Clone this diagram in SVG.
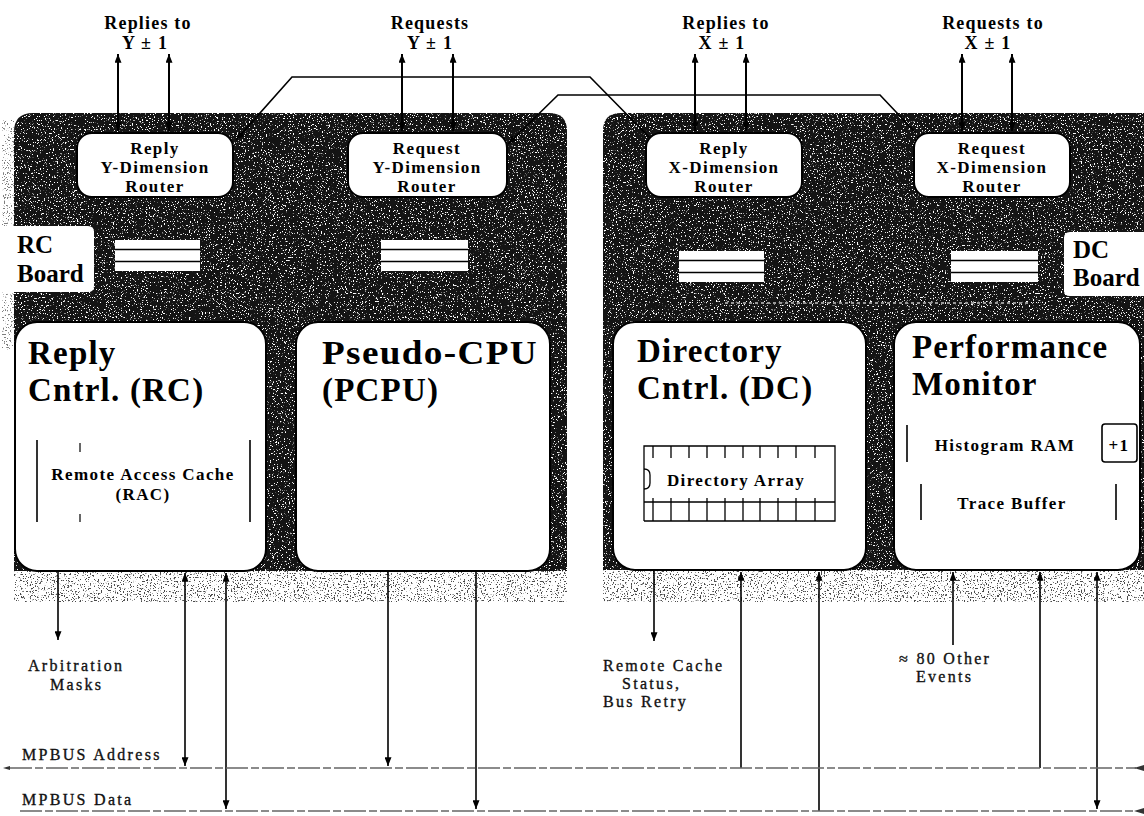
<svg xmlns="http://www.w3.org/2000/svg" width="1144" height="816" viewBox="0 0 1144 816">
<defs>
<style>
.lbl{font-family:"Liberation Serif","Times New Roman",serif;font-weight:bold;fill:#000}
.top{font-size:18px;text-anchor:middle;letter-spacing:1.2px}
.rt{font-size:17px;text-anchor:middle;letter-spacing:1.4px}
.big{font-size:33px;letter-spacing:1.2px}
.brd{font-size:25px}
.inner{font-size:17px;letter-spacing:1.4px}
.bot{font-family:"Liberation Serif","Times New Roman",serif;font-size:16px;letter-spacing:2.3px;fill:#111;stroke:#111;stroke-width:0.35}
.box{fill:#fff;stroke:#000;stroke-width:2}
.wire{fill:none;stroke:#000;stroke-width:1.6}
.thick{fill:none;stroke:#000;stroke-width:2}
.bus{fill:none;stroke:#666;stroke-width:1.3;stroke-dasharray:22 3 8 3}
.bar{stroke:#000;stroke-width:1.6}
.dark{fill:#141414}
</style>
<marker id="ah" viewBox="0 0 10 8" refX="10" refY="4" markerWidth="10" markerHeight="7" markerUnits="userSpaceOnUse" orient="auto-start-reverse">
<path d="M0,0 L10,4 L0,8 z" fill="#000"/>
</marker>
<filter id="fW" x="0" y="0" width="1" height="1" color-interpolation-filters="sRGB">
<feTurbulence type="fractalNoise" baseFrequency="0.75" numOctaves="2" seed="7" result="n"/>
<feColorMatrix in="n" type="matrix" values="0 0 0 0 1  0 0 0 0 1  0 0 0 0 1  14 0 0 0 -8.7" result="m"/>
<feComposite in="m" in2="SourceAlpha" operator="in"/>
</filter>
<filter id="fK" x="0" y="0" width="1" height="1" color-interpolation-filters="sRGB">
<feTurbulence type="fractalNoise" baseFrequency="0.7" numOctaves="2" seed="3" result="n"/>
<feColorMatrix in="n" type="matrix" values="0 0 0 0 0  0 0 0 0 0  0 0 0 0 0  14 0 0 0 -8.3" result="m"/>
<feComposite in="m" in2="SourceAlpha" operator="in"/>
</filter>
</defs>
<rect width="1144" height="816" fill="#fff"/>

<g id="boards">
<path id="rc-board" class="dark" d="M14,132 Q14,113 33,113 H549 Q567,113 567,131 V600 H14 Z"/>
<path d="M14,132 Q14,113 33,113 H549 Q567,113 567,131 V600 H14 Z" fill="#fff" filter="url(#fW)"/>
<path id="dc-board" class="dark" d="M603,131 Q603,113 621,113 H1144 V600 H603 Z"/>
<path d="M603,131 Q603,113 621,113 H1144 V600 H603 Z" fill="#fff" filter="url(#fW)"/>
<rect x="14" y="571" width="553" height="31" fill="#fff"/>
<rect x="14" y="571" width="553" height="31" fill="#fff" filter="url(#fK)" opacity="0.7"/>
<rect x="603" y="570" width="541" height="32" fill="#fff"/>
<rect x="603" y="570" width="541" height="32" fill="#fff" filter="url(#fK)" opacity="0.7"/>
<rect x="2" y="120" width="12" height="230" fill="#fff" filter="url(#fK)" opacity="0.5"/>
<line x1="725" y1="303" x2="1030" y2="303" stroke="#9a9a9a" stroke-width="2" stroke-dasharray="3 3"/>
</g>

<g id="rc-board-label">
<path d="M0,226 H88 Q94,226 94,232 V286 Q94,292 88,292 H0 Z" fill="#fff"/>
<text class="lbl brd" x="17" y="253">RC</text>
<text class="lbl brd" x="17" y="282">Board</text>
</g>
<g id="dc-board-label">
<path d="M1144,232 H1070 Q1064,232 1064,238 V290 Q1064,296 1070,296 H1144 Z" fill="#fff"/>
<text class="lbl brd" x="1073" y="258">DC</text>
<text class="lbl brd" x="1073" y="286">Board</text>
</g>

<g id="connectors">
<path class="thick" d="M118,54 V131" marker-start="url(#ah)" marker-end="url(#ah)"/>
<path class="thick" d="M169,54 V131" marker-start="url(#ah)" marker-end="url(#ah)"/>
<path class="thick" d="M402,54 V131" marker-start="url(#ah)" marker-end="url(#ah)"/>
<path class="thick" d="M453,54 V131" marker-start="url(#ah)" marker-end="url(#ah)"/>
<path class="thick" d="M695,54 V131" marker-start="url(#ah)" marker-end="url(#ah)"/>
<path class="thick" d="M746,54 V131" marker-start="url(#ah)" marker-end="url(#ah)"/>
<path class="thick" d="M962,54 V131" marker-start="url(#ah)" marker-end="url(#ah)"/>
<path class="thick" d="M1012,54 V131" marker-start="url(#ah)" marker-end="url(#ah)"/>
<path class="wire" d="M236,140 L292,77 L590,77 L649,137" marker-start="url(#ah)"/>
<path class="wire" d="M508,144 L558,95 L880,95 L915,132" marker-start="url(#ah)"/>
<path class="wire" d="M58,572 V640" marker-end="url(#ah)"/>
<path class="wire" d="M185,573 V766" marker-start="url(#ah)" marker-end="url(#ah)"/>
<path class="wire" d="M226,573 V809" marker-start="url(#ah)" marker-end="url(#ah)"/>
<path class="wire" d="M388,572 V766" marker-end="url(#ah)"/>
<path class="wire" d="M476,572 V809" marker-end="url(#ah)"/>
<path class="wire" d="M654,571 V641" marker-end="url(#ah)"/>
<path class="wire" d="M741,768 V572" marker-end="url(#ah)"/>
<path class="wire" d="M819,811 V572" marker-end="url(#ah)"/>
<path class="wire" d="M953,645 V572" marker-end="url(#ah)"/>
<path class="wire" d="M1040,768 V572" marker-end="url(#ah)"/>
<path class="wire" d="M1097,572 V809" marker-start="url(#ah)" marker-end="url(#ah)"/>
<path class="bus" d="M10,768 H1136"/>
<path class="bus" d="M20,811 H1136"/>
<path d="M3,768 L10,766 L10,770 Z" fill="#333"/>
<path d="M1134,768 L1144,765 L1144,771 Z" fill="#333"/>
<path d="M1134,811 L1144,808 L1144,814 Z" fill="#333"/>
</g>

<g id="label-reply-y">
<text class="lbl top" x="148" y="29">Replies to</text>
<text class="lbl top" x="145" y="49">Y ± 1</text>
</g>
<g id="label-request-y">
<text class="lbl top" x="430" y="29">Requests</text>
<text class="lbl top" x="430" y="49">Y ± 1</text>
</g>
<g id="label-reply-x">
<text class="lbl top" x="726" y="29">Replies to</text>
<text class="lbl top" x="722" y="49">X ± 1</text>
</g>
<g id="label-request-x">
<text class="lbl top" x="993" y="29">Requests to</text>
<text class="lbl top" x="988" y="49">X ± 1</text>
</g>

<g id="reply-y-router">
<rect class="box" x="77" y="133" width="156" height="64" rx="15"/>
<text class="lbl rt" x="155" y="154">Reply</text>
<text class="lbl rt" x="155" y="173">Y-Dimension</text>
<text class="lbl rt" x="155" y="192">Router</text>
</g>
<g id="request-y-router">
<rect class="box" x="348" y="133" width="159" height="64" rx="15"/>
<text class="lbl rt" x="427" y="154">Request</text>
<text class="lbl rt" x="427" y="173">Y-Dimension</text>
<text class="lbl rt" x="427" y="192">Router</text>
</g>
<g id="reply-x-router">
<rect class="box" x="646" y="133" width="156" height="64" rx="15"/>
<text class="lbl rt" x="724" y="154">Reply</text>
<text class="lbl rt" x="724" y="173">X-Dimension</text>
<text class="lbl rt" x="724" y="192">Router</text>
</g>
<g id="request-x-router">
<rect class="box" x="914" y="133" width="156" height="64" rx="15"/>
<text class="lbl rt" x="992" y="154">Request</text>
<text class="lbl rt" x="992" y="173">X-Dimension</text>
<text class="lbl rt" x="992" y="192">Router</text>
</g>

<g id="fifo-reply-y">
<rect x="115" y="240" width="85" height="31" fill="#fff"/>
<line class="bar" x1="115" y1="249.5" x2="200" y2="249.5"/>
<line class="bar" x1="115" y1="261.5" x2="200" y2="261.5"/>
</g>
<g id="fifo-request-y">
<rect x="381" y="240" width="87" height="31" fill="#fff"/>
<line class="bar" x1="381" y1="249.5" x2="468" y2="249.5"/>
<line class="bar" x1="381" y1="261.5" x2="468" y2="261.5"/>
</g>
<g id="fifo-reply-x">
<rect x="679" y="251" width="85" height="31" fill="#fff"/>
<line class="bar" x1="679" y1="260.5" x2="764" y2="260.5"/>
<line class="bar" x1="679" y1="272.5" x2="764" y2="272.5"/>
</g>
<g id="fifo-request-x">
<rect x="951" y="251" width="87" height="31" fill="#fff"/>
<line class="bar" x1="951" y1="260.5" x2="1038" y2="260.5"/>
<line class="bar" x1="951" y1="272.5" x2="1038" y2="272.5"/>
</g>

<g id="reply-controller">
<rect class="box" x="15" y="322" width="251" height="249" rx="22"/>
<text class="lbl big" x="28" y="364">Reply</text>
<text class="lbl big" x="28" y="401">Cntrl. (RC)</text>
<line class="bar" x1="37" y1="440" x2="37" y2="522"/>
<line class="bar" x1="250" y1="440" x2="250" y2="522"/>
<line stroke="#000" stroke-width="1.2" x1="80" y1="443" x2="80" y2="452"/>
<line stroke="#000" stroke-width="1.2" x1="80" y1="514" x2="80" y2="522"/>
<text class="lbl inner" x="143" y="480" text-anchor="middle">Remote Access Cache</text>
<text class="lbl inner" x="143" y="500" text-anchor="middle">(RAC)</text>
</g>

<g id="pseudo-cpu">
<rect class="box" x="296" y="322" width="254" height="249" rx="22"/>
<text class="lbl big" x="322" y="364" textLength="216" lengthAdjust="spacingAndGlyphs">Pseudo-CPU</text>
<text class="lbl big" x="322" y="401">(PCPU)</text>
</g>

<g id="directory-controller">
<rect class="box" x="613" y="322" width="253" height="248" rx="22"/>
<text class="lbl big" x="637" y="362">Directory</text>
<text class="lbl big" x="637" y="399">Cntrl. (DC)</text>
<g stroke="#000" stroke-width="1.3" fill="none">
<path d="M644,521 V446 H835 V521 H644 M644,502 H835"/>
<path d="M653,446 V458 M671,446 V458 M689,446 V458 M707,446 V458 M725,446 V458 M743,446 V458 M760,446 V458 M778,446 V458 M796,446 V458 M815,446 V458"/>
<path d="M653,498 V521 M671,498 V521 M689,498 V521 M707,498 V521 M725,498 V521 M743,498 V521 M760,498 V521 M778,498 V521 M796,498 V521 M815,498 V521"/>
<path d="M644,469 Q650,469 650,475 V483 Q650,489 644,489"/>
</g>
<text class="lbl inner" x="736" y="486" text-anchor="middle" letter-spacing="1">Directory Array</text>
</g>

<g id="performance-monitor">
<rect class="box" x="894" y="322" width="246" height="248" rx="22"/>
<text class="lbl big" x="912" y="358">Performance</text>
<text class="lbl big" x="912" y="395">Monitor</text>
<line class="bar" x1="907" y1="425" x2="907" y2="462"/>
<text class="lbl inner" x="1005" y="451" text-anchor="middle">Histogram RAM</text>
<rect x="1102" y="424" width="35" height="38" rx="3" fill="#fff" stroke="#000" stroke-width="1.6"/>
<text class="lbl inner" x="1119" y="451" text-anchor="middle" letter-spacing="0">+1</text>
<line class="bar" x1="921" y1="484" x2="921" y2="520"/>
<line class="bar" x1="1116" y1="484" x2="1116" y2="520"/>
<text class="lbl inner" x="1012" y="509" text-anchor="middle">Trace Buffer</text>
</g>

<g id="bottom-labels">
<text class="bot" x="28" y="671">Arbitration</text>
<text class="bot" x="50" y="690">Masks</text>
<text class="bot" x="22" y="760">MPBUS Address</text>
<text class="bot" x="22" y="805">MPBUS Data</text>
<text class="bot" x="603" y="671">Remote Cache</text>
<text class="bot" x="622" y="689">Status,</text>
<text class="bot" x="603" y="707">Bus Retry</text>
<text class="bot" x="899" y="664">≈ 80 Other</text>
<text class="bot" x="916" y="682">Events</text>
</g>
</svg>
